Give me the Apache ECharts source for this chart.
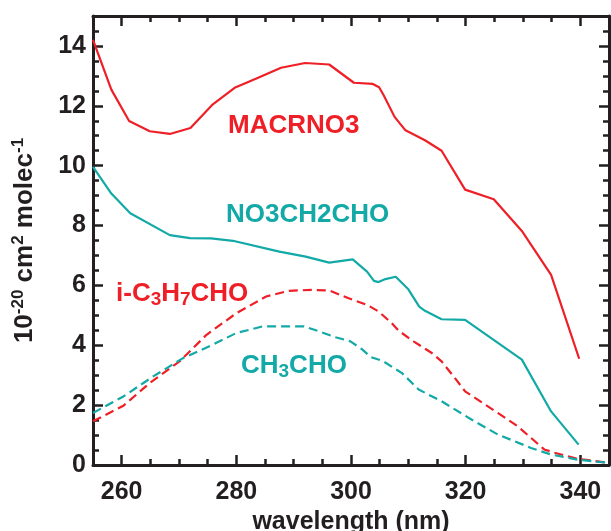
<!DOCTYPE html>
<html><head><meta charset="utf-8">
<script src="https://cdn.jsdelivr.net/npm/echarts@6/dist/echarts.min.js"></script>
<style>html,body{margin:0;padding:0;background:#fff}#c{width:611px;height:531px}</style>
</head><body><div id="c"></div>
<script>
// ---- data ----
const macrWl  = [255,258.2,261.3,264.9,268.4,272,275.9,279.7,283.4,287.8,292,296.2,300.5,303.8,304.9,305.7,307.6,309.5,312.9,315.8,319.9,324.9,329.8,334.9,339.8];
const macrVal = [14.2,12.54,11.49,11.15,11.06,11.26,12.05,12.6,12.9,13.27,13.43,13.38,12.77,12.73,12.62,12.35,11.63,11.18,10.85,10.5,9.2,8.88,7.82,6.35,3.55];

const no3Wl  = [255,258.2,261.5,268.4,271.9,275.6,279.4,287.5,292.1,296.2,300.3,302.8,304,304.8,306,307.8,310,311.9,312.9,315.8,319.9,329.8,334.9,339.7];
const no3Val = [9.96,9.07,8.41,7.68,7.58,7.57,7.49,7.13,6.96,6.76,6.87,6.46,6.15,6.11,6.21,6.29,5.87,5.29,5.15,4.87,4.85,3.52,1.79,0.68];

const iprWl  = [255,260.3,264.9,270.1,274.8,280,285.2,289.2,293.3,296.2,299.6,302.8,304.8,307.1,308.3,310.9,314.1,315.8,317.9,319.9,325.6,329.1,333.7,335.5,339.5,345];
const iprVal = [1.46,1.98,2.74,3.46,4.35,5.07,5.63,5.82,5.85,5.83,5.57,5.35,5.13,4.74,4.49,4.13,3.74,3.46,2.96,2.46,1.74,1.29,0.52,0.41,0.21,0.07];

const aceWl  = [255,260.3,265.5,270.7,275.9,280,284.6,287.5,291.8,294.5,297.3,299.9,301.9,303.5,305.5,308.9,311.8,315.8,321,325.6,331.4,334.9,339.5,345];
const aceVal = [1.74,2.29,2.96,3.57,4.02,4.41,4.63,4.63,4.63,4.46,4.27,4.13,3.87,3.6,3.48,3.07,2.52,2.13,1.52,1.02,0.57,0.35,0.18,0.07];

const xTickLabels = [260,280,300,320,340];
const yTickLabels = [0,2,4,6,8,10,12,14];
const xMinorTicks = []; for (let v = 255; v <= 345; v += 5) xMinorTicks.push(v);
const yMinorTicks = []; for (let v = 0; v <= 15; v += 0.5) yMinorTicks.push(v);

// ---- style ----
const RED = '#ee1f26', TEAL = '#12a9a6', AX = '#231f20';
const FF = '"Liberation Sans", Arial, Helvetica, sans-serif';

function zip(a, b) { return a.map((x, i) => [x, b[i]]); }

function xAxisDef(pos, major, labels) {
  return {
    type: 'value', position: pos, min: 255, max: 345, interval: 5,
    axisLine: { show: !major, onZero: false, lineStyle: { color: AX, width: 3 } },
    axisTick: { show: true, inside: true, length: major ? 10 : 6,
      customValues: major ? xTickLabels : xMinorTicks,
      lineStyle: { color: AX, width: 2.5 } },
    axisLabel: labels ? { show: true, margin: 15, fontSize: 25, fontWeight: 'bold', fontFamily: FF, color: AX,
      customValues: xTickLabels } : { show: false },
    splitLine: { show: false },
    name: labels ? 'wavelength (nm)' : '',
    nameLocation: 'middle', nameGap: 45,
    nameTextStyle: { fontSize: 25, fontWeight: 'bold', fontFamily: FF, color: AX }
  };
}
function yAxisDef(pos, major, labels) {
  return {
    type: 'value', position: pos, min: 0, max: 15, interval: 0.5,
    axisLine: { show: !major, onZero: false, lineStyle: { color: AX, width: 3 } },
    axisTick: { show: true, inside: true, length: major ? 10 : 6,
      customValues: major ? yTickLabels : yMinorTicks,
      lineStyle: { color: AX, width: 2.5 } },
    axisLabel: labels ? { show: true, margin: 7, fontSize: 25, fontWeight: 'bold', fontFamily: FF, color: AX,
      customValues: yTickLabels } : { show: false },
    splitLine: { show: false },
    name: labels ? '{n|10}{p|-20}{n| cm}{p|2}{n| molec}{p|-1}' : '',
    nameLocation: 'middle', nameRotate: 90, nameGap: 53,
    nameTextStyle: { fontFamily: FF, color: AX,
      rich: {
        n: { fontSize: 26, fontWeight: 'bold', fontFamily: FF, color: AX, lineHeight: 30 },
        p: { fontSize: 17, fontWeight: 'bold', fontFamily: FF, color: AX, lineHeight: 16, verticalAlign: 'top' }
      } }
  };
}

function lbl(parts, color, x, y) {
  const rich = {
    n: { fontSize: 26, fontWeight: 'bold', fontFamily: FF, fill: color, lineHeight: 30 },
    s: { fontSize: 19, fontWeight: 'bold', fontFamily: FF, fill: color, lineHeight: 14, verticalAlign: 'bottom' }
  };
  return { type: 'text', x: x, y: y, z: 10,
    style: { text: parts, rich: rich, fill: color, font: 'bold 26px ' + FF, verticalAlign: 'middle', align: 'left' } };
}

const option = {
  animation: false,
  backgroundColor: '#fff',
  grid: { left: 93, right: 2, top: 16, bottom: 66, containLabel: false, outerBoundsMode: 'none' },
  xAxis: [ xAxisDef('bottom', false, true), xAxisDef('bottom', true, false),
           xAxisDef('top', false, false), xAxisDef('top', true, false) ],
  yAxis: [ yAxisDef('left', false, true), yAxisDef('left', true, false),
           yAxisDef('right', false, false), yAxisDef('right', true, false) ],
  series: [
    { name: 'MACRNO3', type: 'line', data: zip(macrWl, macrVal), showSymbol: false, symbol: 'none',
      lineStyle: { color: RED, width: 2.2 }, clip: true },
    { name: 'NO3CH2CHO', type: 'line', data: zip(no3Wl, no3Val), showSymbol: false, symbol: 'none',
      lineStyle: { color: TEAL, width: 2.2 }, clip: true },
    { name: 'i-C3H7CHO', type: 'line', data: zip(iprWl, iprVal), showSymbol: false, symbol: 'none',
      lineStyle: { color: RED, width: 2.2, type: [9, 5] }, clip: true },
    { name: 'CH3CHO', type: 'line', data: zip(aceWl, aceVal), showSymbol: false, symbol: 'none',
      lineStyle: { color: TEAL, width: 2.2, type: [9, 5] }, clip: true }
  ],
  graphic: [
    lbl('{n|MACRNO3}', RED, 228, 126),
    lbl('{n|NO3CH2CHO}', TEAL, 226, 215),
    lbl('{n|i-C}{s|3}{n|H}{s|7}{n|CHO}', RED, 116, 294),
    lbl('{n|CH}{s|3}{n|CHO}', TEAL, 241, 366)
  ]
};
const chart = echarts.init(document.getElementById('c'), null, { renderer: 'canvas' });
chart.setOption(option);
</script>
</body></html>
